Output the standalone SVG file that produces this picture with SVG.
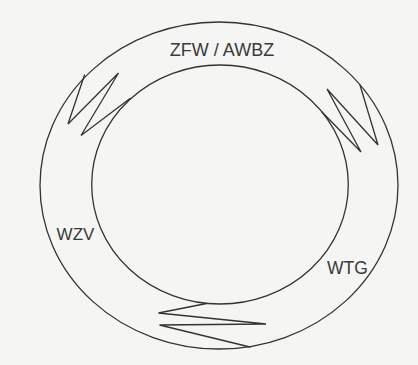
<svg xmlns="http://www.w3.org/2000/svg" width="418" height="365" viewBox="0 0 418 365">
  <style>
    .ln { fill: none; stroke: #333; stroke-width: 1.3; stroke-linejoin: miter; stroke-linecap: round; }
    .lbl { font-family: "Liberation Sans", Arial, sans-serif; fill: #3a3a3a; }
  </style>
  <rect width="418" height="365" fill="#f5f5f3"/>
  <g id="rings">
    <ellipse class="ln" cx="219" cy="185.5" rx="179" ry="163.5"/>
    <ellipse class="ln" cx="220" cy="184.5" rx="128.3" ry="119.5"/>
  </g>
  <g id="connectors">
    <polyline class="ln" points="84.5,75 68,124 118.5,73 81,135.5 130,98.5"/>
    <polyline class="ln" points="360,85 378,145 327,89 361,152 322,112"/>
    <polyline class="ln" points="206.5,303.5 158.5,313 266,324 159.5,325 250,347"/>
  </g>
  <g id="zfw-awbz">
    <text class="lbl" x="222" y="56" font-size="18" text-anchor="middle">ZFW / AWBZ</text>
  </g>
  <g id="wzv">
    <text class="lbl" x="75.5" y="239.5" font-size="17" text-anchor="middle">WZV</text>
  </g>
  <g id="wtg">
    <text class="lbl" x="347.5" y="274" font-size="17.5" text-anchor="middle">WTG</text>
  </g>
</svg>
